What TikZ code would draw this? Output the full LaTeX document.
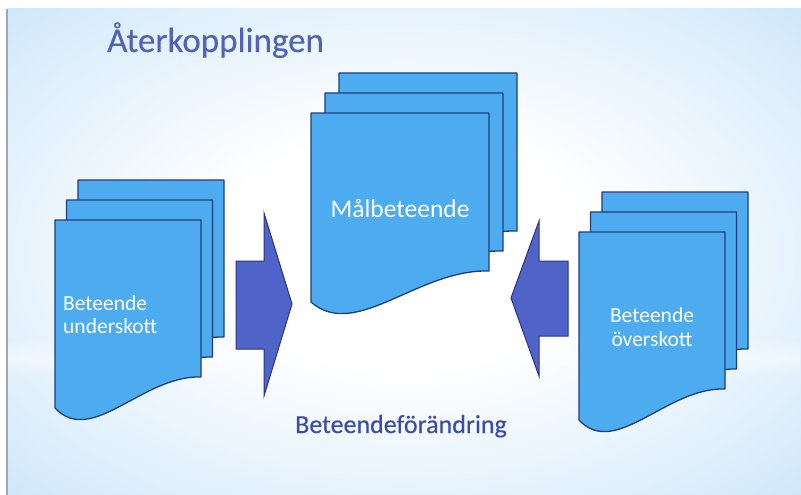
\documentclass[tikz,border=0pt]{standalone}
\usepackage{fontspec}
\setmainfont{Carlito}
\newfontfamily\heavyfont[FakeBold=0.25]{Carlito}
\usetikzlibrary{fadings}

\definecolor{pagefill}{HTML}{4DACEF}
\definecolor{pageline}{HTML}{203C7C}
\definecolor{arrowfill}{HTML}{4F63C8}
\definecolor{arrowline}{HTML}{283585}
\definecolor{titlecol}{HTML}{5262B6}
\definecolor{capcol}{HTML}{3A4BA8}
\definecolor{bgA}{HTML}{DCEEFC}
\definecolor{bgB}{HTML}{B2D9F7}
\definecolor{bgC}{HTML}{9CCDF3}

\pgfdeclareradialshading{slidebg}{\pgfpoint{0bp}{0bp}}{color(0bp)=(white); color(12bp)=(white); color(30bp)=(bgA); color(48bp)=(bgB); color(72bp)=(bgC)}

\tikzfading[name=bandfade, top color=transparent!100, bottom color=transparent!100, middle color=transparent!50]

\tikzset{
  docpagestyle/.style={fill=pagefill, draw=pageline, line width=1.3pt, line join=round},
  blockarrow/.style={fill=arrowfill, draw=arrowline, line width=1pt, line join=miter},
  pagetext/.style={text=white, inner sep=0pt, font=\fontsize{21.5}{26}\selectfont},
}

\newcommand\docpage[4]{%
  \begin{scope}[shift={(#1,#2)}]
    \filldraw[docpagestyle] (0,0) -- (#3,0) -- (#3,{#4-31})
      .. controls ({0.6*#3},{#4-33}) and ({0.25*#3},{#4+39}) .. (0,#4) -- cycle;
  \end{scope}}

\begin{document}
\begin{tikzpicture}[x=1pt,y=-1pt]
\useasboundingbox (0,0) rectangle (801,495);
\fill[white] (0,0) rectangle (801,495);
\shade[shading=slidebg] (7,9) rectangle (801,495);
\fill[white, path fading=bandfade] (7,338) rectangle (801,378);
\draw[gray!70, line width=1.2pt] (7,9) -- (7,495);

% title
\node[anchor=base west, inner sep=0pt, text=titlecol, font=\heavyfont\fontsize{35}{40}\selectfont] (title) at (107,52) {Återkopplingen};

% left stack
\docpage{78}{180}{146}{188}
\docpage{66.5}{200}{146}{188}
\docpage{55}{220}{146}{188}
\node[pagetext, anchor=base west] (lt1) at (63,310) {Beteende};
\node[pagetext, anchor=base west] (lt2) at (63,333) {underskott};

% center stack
\docpage{339}{73}{178}{189}
\docpage{325}{93}{178}{189}
\docpage{311}{113}{178}{189}
\node[text=white, inner sep=0pt, anchor=base, font=\fontsize{25.5}{30}\selectfont] (ct) at (400,217) {Målbeteende};

% right stack
\docpage{602}{192}{146}{188}
\docpage{590.5}{212}{146}{188}
\docpage{579}{232}{146}{188}
\node[pagetext, anchor=base] (rt1) at (652,322) {Beteende};
\node[pagetext, anchor=base] (rt2) at (652,346) {överskott};

% block arrows
\filldraw[blockarrow] (236,261) -- (264,261) -- (264,213) -- (292,304) -- (264,396) -- (264,349) -- (236,349) -- cycle;
\filldraw[blockarrow] (568,261) -- (539,261) -- (539,221) -- (511,298) -- (539,376) -- (539,336) -- (568,336) -- cycle;

% caption
\node[anchor=base west, inner sep=0pt, text=capcol, font=\heavyfont\fontsize{26}{31}\selectfont] (cap) at (295,433) {Beteendeförändring};
\end{tikzpicture}
\end{document}
